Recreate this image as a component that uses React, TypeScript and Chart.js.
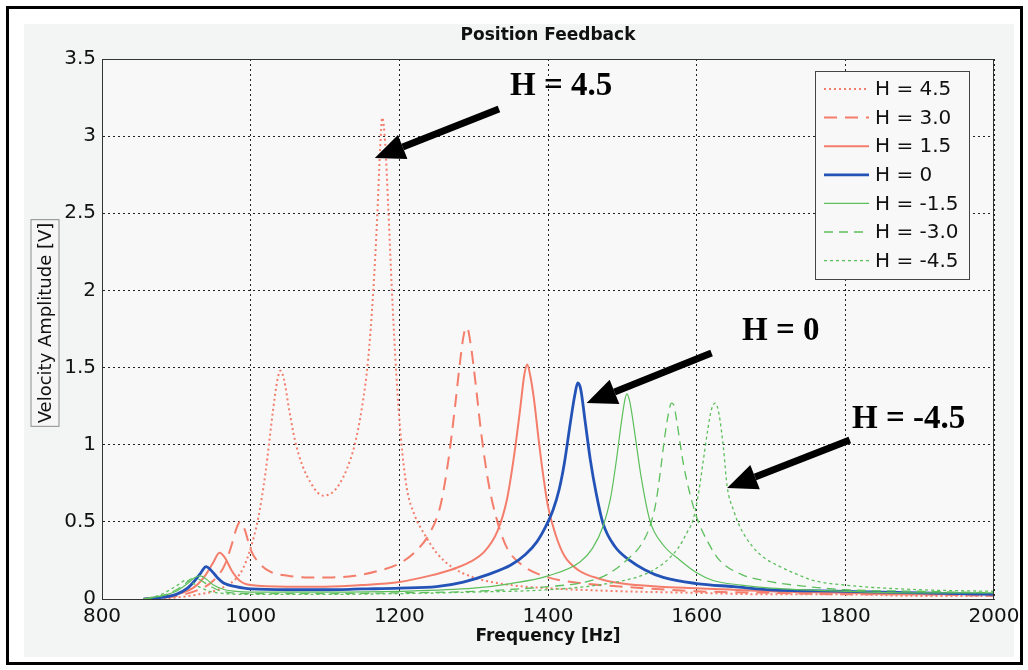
import React, { useEffect, useRef } from "react";
import { Chart, registerables } from "chart.js";
Chart.register(...registerables);

// ---------- data ----------
const xTicks = [800, 1000, 1200, 1400, 1600, 1800, 2000];
const yTicks = [0, 0.5, 1, 1.5, 2, 2.5, 3, 3.5];
const seriesNames = ["H = 4.5", "H = 3.0", "H = 1.5", "H = 0", "H = -1.5", "H = -3.0", "H = -4.5"];

const freqH45 = [856, 900, 930, 950, 965, 980, 990, 1000, 1010, 1020, 1030, 1036, 1040, 1045, 1052, 1060, 1070, 1080, 1090, 1098, 1110, 1120, 1130, 1140, 1150, 1158, 1165, 1170, 1174, 1177, 1181, 1185, 1190, 1196, 1202, 1210, 1220, 1235, 1250, 1270, 1300, 1350, 1400, 1500, 1600, 1700, 1800, 1900, 2000];
const ampH45 = [0, 0.01, 0.03, 0.05, 0.08, 0.13, 0.2, 0.33, 0.52, 0.82, 1.22, 1.42, 1.48, 1.42, 1.22, 1.02, 0.86, 0.76, 0.69, 0.67, 0.69, 0.75, 0.85, 1.0, 1.25, 1.55, 2.0, 2.45, 2.9, 3.12, 2.95, 2.55, 2.0, 1.45, 1.05, 0.72, 0.55, 0.41, 0.3, 0.21, 0.14, 0.09, 0.07, 0.05, 0.04, 0.03, 0.03, 0.02, 0.02];

const freqH30 = [856, 900, 930, 950, 965, 975, 981, 986, 992, 1000, 1010, 1025, 1050, 1080, 1110, 1140, 1170, 1200, 1220, 1240, 1255, 1266, 1275, 1282, 1287, 1291, 1296, 1303, 1310, 1320, 1332, 1345, 1365, 1400, 1450, 1500, 1600, 1700, 1800, 1900, 2000];
const ampH30 = [0, 0.02, 0.06, 0.12, 0.22, 0.36, 0.46, 0.5, 0.45, 0.32, 0.24, 0.18, 0.15, 0.14, 0.14, 0.15, 0.18, 0.23, 0.3, 0.42, 0.6, 0.9, 1.25, 1.55, 1.72, 1.76, 1.65, 1.38, 1.08, 0.75, 0.5, 0.33, 0.22, 0.14, 0.1, 0.08, 0.05, 0.04, 0.03, 0.03, 0.02];

const freqH15 = [856, 900, 925, 940, 950, 958, 965, 975, 985, 1000, 1050, 1100, 1150, 1200, 1240, 1270, 1295, 1315, 1332, 1345, 1355, 1363, 1368, 1372, 1376, 1381, 1387, 1393, 1400, 1410, 1422, 1440, 1470, 1500, 1550, 1600, 1700, 1800, 1900, 2000];
const ampH15 = [0, 0.03, 0.08, 0.16, 0.24, 0.3, 0.27, 0.18, 0.12, 0.09, 0.08, 0.08, 0.09, 0.11, 0.15, 0.19, 0.24, 0.31, 0.44, 0.65, 0.95, 1.25, 1.45, 1.52, 1.45, 1.3, 1.05, 0.82, 0.6, 0.42, 0.28, 0.19, 0.13, 0.1, 0.08, 0.07, 0.05, 0.04, 0.03, 0.03];

const freqH0 = [856, 880, 900, 915, 925, 933, 940, 946, 955, 965, 980, 1000, 1050, 1100, 1150, 1200, 1250, 1286, 1320, 1350, 1370, 1385, 1397, 1407, 1415, 1422, 1430, 1436, 1440, 1444, 1450, 1457, 1465, 1474, 1490, 1510, 1530, 1555, 1600, 1650, 1700, 1800, 1900, 2000];
const ampH0 = [0, 0.01, 0.03, 0.07, 0.12, 0.17, 0.21, 0.19, 0.14, 0.1, 0.08, 0.065, 0.06, 0.06, 0.065, 0.07, 0.08, 0.11, 0.16, 0.22, 0.29, 0.37, 0.47, 0.58, 0.71, 0.88, 1.14, 1.32, 1.4, 1.36, 1.15, 0.9, 0.68, 0.49, 0.34, 0.25, 0.19, 0.14, 0.1, 0.08, 0.06, 0.05, 0.04, 0.03];

const freqHm15 = [856, 880, 900, 915, 925, 932, 940, 950, 965, 980, 1000, 1100, 1200, 1300, 1350, 1400, 1443, 1460, 1474, 1484, 1492, 1498, 1503, 1506, 1510, 1516, 1525, 1537, 1555, 1578, 1600, 1622, 1660, 1700, 1800, 1900, 2000];
const ampHm15 = [0, 0.02, 0.05, 0.1, 0.14, 0.15, 0.13, 0.09, 0.06, 0.05, 0.045, 0.045, 0.05, 0.07, 0.1, 0.15, 0.24, 0.33, 0.47, 0.65, 0.9, 1.12, 1.28, 1.33, 1.28, 1.1, 0.8, 0.51, 0.35, 0.25, 0.17, 0.12, 0.09, 0.07, 0.05, 0.04, 0.04];

const freqHm30 = [856, 880, 900, 912, 920, 928, 940, 955, 975, 1000, 1100, 1200, 1300, 1400, 1450, 1480, 1510, 1525, 1537, 1545, 1551, 1557, 1562, 1566, 1569, 1573, 1578, 1582, 1590, 1600, 1615, 1631, 1660, 1690, 1750, 1800, 1900, 2000];
const ampHm30 = [0, 0.02, 0.06, 0.1, 0.13, 0.13, 0.1, 0.06, 0.04, 0.035, 0.035, 0.04, 0.05, 0.08, 0.11, 0.16, 0.27, 0.35, 0.47, 0.62, 0.82, 1.05, 1.2, 1.27, 1.26, 1.16, 1.0, 0.88, 0.7, 0.53, 0.37, 0.25, 0.16, 0.12, 0.08, 0.06, 0.05, 0.04];

const freqHm45 = [856, 880, 895, 905, 912, 920, 930, 945, 965, 1000, 1100, 1200, 1300, 1400, 1480, 1530, 1555, 1575, 1588, 1595, 1603, 1609, 1615, 1620, 1625, 1630, 1636, 1641, 1650, 1658, 1675, 1690, 1712, 1735, 1757, 1800, 1900, 2000];
const ampHm45 = [0, 0.03, 0.07, 0.1, 0.12, 0.11, 0.08, 0.05, 0.035, 0.03, 0.03, 0.035, 0.045, 0.06, 0.1, 0.16, 0.23, 0.33, 0.44, 0.51, 0.7, 0.9, 1.1, 1.23, 1.27, 1.2, 0.98, 0.73, 0.57, 0.47, 0.34, 0.27, 0.21, 0.16, 0.12, 0.09, 0.06, 0.05];

const annotationLabels = ["H = 4.5", "H = 0", "H = -4.5"];

// ---------- styling ----------
const RED = "#f47d6b";
const BLUE = "#2453b8";
const GREEN = "#5cbf5c";

const seriesFreqs = [freqH45, freqH30, freqH15, freqH0, freqHm15, freqHm30, freqHm45];
const seriesAmps = [ampH45, ampH30, ampH15, ampH0, ampHm15, ampHm30, ampHm45];
const seriesStyles = [
  { color: RED, width: 2, dash: [2, 3] },
  { color: RED, width: 2, dash: [13, 8] },
  { color: RED, width: 2, dash: [] },
  { color: BLUE, width: 2.8, dash: [] },
  { color: GREEN, width: 1.2, dash: [] },
  { color: GREEN, width: 1.3, dash: [9, 6] },
  { color: GREEN, width: 1.3, dash: [3, 3] },
];

// annotation placement in data coordinates (text left/baseline, arrow tail, arrow tip)
const annotationPlacement = [
  { tx: 1349, ty: 3.267, ax0: 1334, ay0: 3.176, ax1: 1167, ay1: 2.858 },
  { tx: 1661, ty: 1.679, ax0: 1620, ay0: 1.594, ax1: 1452, ay1: 1.27 },
  { tx: 1809, ty: 1.108, ax0: 1806, ay0: 1.031, ax1: 1641, ay1: 0.719 },
];

const SANS = "'DejaVu Sans', 'Liberation Sans', Arial, sans-serif";
const SERIF = "'Liberation Serif', 'Times New Roman', serif";

const decorPlugin = {
  id: "decor",
  beforeDraw(chart: any) {
    const { ctx, chartArea: a } = chart;
    ctx.save();
    ctx.fillStyle = "#f8f8f8";
    ctx.fillRect(a.left, a.top, a.right - a.left, a.bottom - a.top);
    ctx.restore();
  },
  afterDatasetsDraw(chart: any) {
    const { ctx, chartArea: a, scales } = chart;
    const xs = scales.x, ys = scales.y;
    ctx.save();
    // axes box
    ctx.strokeStyle = "#333";
    ctx.lineWidth = 1;
    ctx.setLineDash([]);
    ctx.strokeRect(a.left + 0.5, a.top + 0.5, a.right - a.left - 1, a.bottom - a.top);

    // title
    ctx.fillStyle = "#111";
    ctx.textAlign = "center";
    ctx.textBaseline = "middle";
    ctx.font = `bold 17px ${SANS}`;
    ctx.fillText("Position Feedback", (a.left + a.right) / 2, 36);
    // x label
    ctx.fillText("Frequency [Hz]", (a.left + a.right) / 2, 637);

    // y label with box
    ctx.save();
    ctx.translate(45, 323);
    ctx.rotate(-Math.PI / 2);
    ctx.font = `18px ${SANS}`;
    const yl = "Velocity Amplitude [V]";
    const w = ctx.measureText(yl).width;
    ctx.fillStyle = "#f6f6f6";
    ctx.fillRect(-w / 2 - 3, -14, w + 6, 28);
    ctx.strokeStyle = "#8c8c8c";
    ctx.lineWidth = 1;
    ctx.strokeRect(-w / 2 - 3, -14, w + 6, 28);
    ctx.fillStyle = "#111";
    ctx.fillText(yl, 0, 1);
    ctx.restore();

    // legend
    const lx = a.right - 179, ly = a.top + 12, lw = 154, lh = 208;
    ctx.fillStyle = "#f8f8f8";
    ctx.fillRect(lx, ly, lw, lh);
    ctx.strokeStyle = "#444";
    ctx.lineWidth = 1;
    ctx.strokeRect(lx + 0.5, ly + 0.5, lw, lh);
    ctx.font = `20px ${SANS}`;
    ctx.textAlign = "left";
    ctx.textBaseline = "middle";
    seriesNames.forEach((name, i) => {
      const yy = ly + 18 + i * 28.6;
      const st = seriesStyles[i];
      ctx.strokeStyle = st.color;
      ctx.lineWidth = st.width;
      ctx.setLineDash(st.dash);
      ctx.beginPath();
      ctx.moveTo(lx + 9, yy);
      ctx.lineTo(lx + 54, yy);
      ctx.stroke();
      ctx.setLineDash([]);
      ctx.fillStyle = "#111";
      ctx.fillText(name, lx + 60, yy + 1);
    });

    // annotations
    annotationPlacement.forEach((p, i) => {
      const tx = xs.getPixelForValue(p.tx), ty = ys.getPixelForValue(p.ty);
      ctx.font = `bold 33px ${SERIF}`;
      ctx.fillStyle = "#000";
      ctx.textAlign = "left";
      ctx.textBaseline = "alphabetic";
      ctx.fillText(annotationLabels[i], tx, ty);
      const x0 = xs.getPixelForValue(p.ax0), y0 = ys.getPixelForValue(p.ay0);
      const x1 = xs.getPixelForValue(p.ax1), y1 = ys.getPixelForValue(p.ay1);
      const ang = Math.atan2(y1 - y0, x1 - x0);
      const headLen = 30, headHalf = 13;
      const bx = x1 - headLen * Math.cos(ang), by = y1 - headLen * Math.sin(ang);
      ctx.strokeStyle = "#000";
      ctx.lineWidth = 7;
      ctx.lineCap = "butt";
      ctx.beginPath();
      ctx.moveTo(x0, y0);
      ctx.lineTo(bx, by);
      ctx.stroke();
      ctx.beginPath();
      ctx.moveTo(x1, y1);
      ctx.lineTo(bx + headHalf * Math.sin(ang), by - headHalf * Math.cos(ang));
      ctx.lineTo(bx - headHalf * Math.sin(ang), by + headHalf * Math.cos(ang));
      ctx.closePath();
      ctx.fillStyle = "#000";
      ctx.fill();
    });
    ctx.restore();
  },
};

export default function App() {
  const ref = useRef<HTMLCanvasElement>(null);
  useEffect(() => {
    const canvas = ref.current!;
    const datasets = seriesNames.map((name, i) => ({
      label: name,
      data: seriesFreqs[i].map((f, j) => ({ x: f, y: seriesAmps[i][j] })),
      borderColor: seriesStyles[i].color,
      borderWidth: seriesStyles[i].width,
      borderDash: seriesStyles[i].dash,
      pointRadius: 0,
      fill: false,
      cubicInterpolationMode: "monotone" as const,
      order: 7 - i,
    }));
    const chart = new Chart(canvas, {
      type: "line",
      data: { datasets },
      options: {
        animation: false,
        responsive: false,
        devicePixelRatio: 1,
        events: [],
        layout: { padding: { left: 0, right: 34, top: 59, bottom: 31 } },
        plugins: { legend: { display: false }, title: { display: false }, tooltip: { enabled: false } },
        scales: {
          x: {
            type: "linear",
            min: 800,
            max: 2000,
            afterBuildTicks: (s: any) => { s.ticks = xTicks.map((v) => ({ value: v })); },
            afterFit: (s: any) => { s.height = 40; },
            ticks: {
              autoSkip: false,
              maxRotation: 0,
              padding: 6,
              color: "#111",
              font: { family: SANS, size: 20 },
              callback: (v: any) => String(v),
            },
            grid: { color: "#222", lineWidth: 1, drawTicks: false },
            border: { display: true, color: "#333", width: 1, dash: [2, 3] },
          },
          y: {
            type: "linear",
            min: 0,
            max: 3.5,
            afterBuildTicks: (s: any) => { s.ticks = yTicks.map((v) => ({ value: v })); },
            afterFit: (s: any) => { s.width = 102; },
            ticks: {
              autoSkip: false,
              padding: 6,
              color: "#111",
              font: { family: SANS, size: 20 },
              callback: (v: any) => String(v),
            },
            grid: { color: "#222", lineWidth: 1, drawTicks: false },
            border: { display: true, color: "#333", width: 1, dash: [2, 3] },
          },
        },
      },
      plugins: [decorPlugin],
    });
    return () => chart.destroy();
  }, []);
  return (
    <div style={{ position: "fixed", left: 0, top: 0, width: 1028, height: 670, background: "#fff" }}>
      <div style={{ position: "absolute", left: 6, top: 6, width: 1017, height: 659, border: "3px solid #000", boxSizing: "border-box" }} />
      <div style={{ position: "absolute", left: 24, top: 24, width: 990, height: 633, background: "#f3f4f4" }} />
      <canvas ref={ref} width={1028} height={670} style={{ position: "absolute", left: 0, top: 0, width: 1028, height: 670 }} />
    </div>
  );
}
